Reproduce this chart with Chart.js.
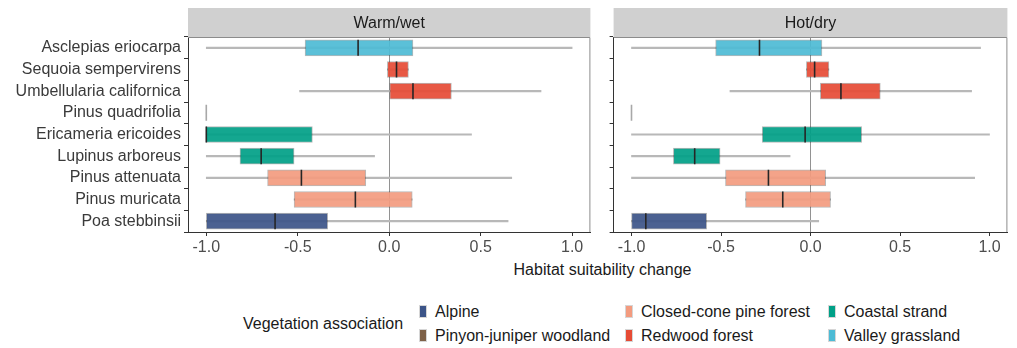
<!DOCTYPE html>
<html>
<head>
<meta charset="utf-8">
<script src="https://cdn.jsdelivr.net/npm/chart.js@4"></script>
<style>
  body { margin: 0; background: #fff; font-family: "Liberation Sans", Arial, sans-serif; }
  #wrap { position: relative; width: 1017px; height: 348px; overflow: hidden; }
  canvas { position: absolute; top: 0; }
  .xtitle { position: absolute; top: 261px; left: 188px; width: 829px; text-align: center; font-size: 16px; color: #1a1a1a; }
  .legtitle { position: absolute; left: 243px; top: 315px; font-size: 16px; color: #1a1a1a; }
  .leg { position: absolute; font-size: 16px; color: #1a1a1a; white-space: nowrap; line-height: 18px; }
  .key { display: inline-block; width: 6px; height: 11px; border: 1px solid #d6d6d6; margin-right: 8px; vertical-align: -1px; }
</style>
</head>
<body>
<div id="wrap">
  <canvas id="warm" width="600" height="256" style="left:0"></canvas>
  <canvas id="hot" width="413" height="256" style="left:604px"></canvas>
  <div class="xtitle">Habitat suitability change</div>
  <div class="legtitle">Vegetation association</div>
  <div id="legend"></div>
</div>
<script>
// rows, top to bottom
var species = ['Asclepias eriocarpa', 'Sequoia sempervirens', 'Umbellularia californica', 'Pinus quadrifolia',
  'Ericameria ericoides', 'Lupinus arboreus', 'Pinus attenuata', 'Pinus muricata', 'Poa stebbinsii'];
var association = ['Valley grassland', 'Redwood forest', 'Redwood forest', 'Pinyon-juniper woodland',
  'Coastal strand', 'Coastal strand', 'Closed-cone pine forest', 'Closed-cone pine forest', 'Alpine'];

var groups = ['Alpine', 'Pinyon-juniper woodland', 'Closed-cone pine forest', 'Redwood forest', 'Coastal strand', 'Valley grassland'];
var groupColors = ['#3C5488', '#7E6148', '#F39B7F', '#E64B35', '#00A087', '#4DBBD5'];

var xTicks = [-1, -0.5, 0, 0.5, 1];

// Warm/wet
var warmLo  = [-1.0, -0.01, -0.49, -1.0, -1.0, -1.0, -1.0, -0.52, -1.0];
var warmQ1  = [-0.46, -0.01, 0.0, -1.0, -1.0, -0.816, -0.665, -0.52, -1.0];
var warmMed = [-0.17, 0.04, 0.13, -1.0, -1.0, -0.70, -0.48, -0.185, -0.624];
var warmQ3  = [0.13, 0.105, 0.34, -1.0, -0.42, -0.52, -0.128, 0.126, -0.336];
var warmHi  = [1.0, 0.105, 0.83, -1.0, 0.45, -0.08, 0.67, 0.126, 0.65];

// Hot/dry
var hotLo  = [-1.0, -0.023, -0.45, -1.0, -1.0, -1.0, -1.0, -0.363, -1.0];
var hotQ1  = [-0.53, -0.023, 0.055, -1.0, -0.27, -0.766, -0.475, -0.363, -1.0];
var hotMed = [-0.285, 0.023, 0.17, -1.0, -0.03, -0.647, -0.235, -0.155, -0.92];
var hotQ3  = [0.064, 0.103, 0.39, -1.0, 0.286, -0.505, 0.085, 0.112, -0.58];
var hotHi  = [0.95, 0.103, 0.90, -1.0, 1.0, -0.114, 0.917, 0.112, 0.046];


function hexA(hex, a) {
  var n = parseInt(hex.slice(1), 16);
  return 'rgba(' + (n >> 16) + ',' + ((n >> 8) & 255) + ',' + (n & 255) + ',' + a + ')';
}

var boxColors = association.map(function (g) { return hexA(groupColors[groups.indexOf(g)], 0.92); });

/* strip header + top/right border of each panel */
var panelPlugin = {
  id: 'panel',
  beforeDraw: function (chart, args, opts) {
    var a = chart.chartArea, c = chart.ctx;
    c.save();
    c.fillStyle = '#d0d0d0';
    c.fillRect(a.left, 8, a.right - a.left, a.top - 8);
    c.fillStyle = '#1a1a1a';
    c.font = '16px "Liberation Sans", Arial, sans-serif';
    c.textAlign = 'center';
    c.textBaseline = 'middle';
    c.fillText(opts.title, (a.left + a.right) / 2, (a.top + 8) / 2 + 1);
    c.restore();
  },
  afterDraw: function (chart) {
    var a = chart.chartArea, c = chart.ctx;
    c.save();
    c.strokeStyle = '#8c8c8c';
    c.lineWidth = 1;
    c.beginPath();
    c.moveTo(a.left, a.top + 0.5);
    c.lineTo(a.right - 0.5, a.top + 0.5);
    c.lineTo(a.right - 0.5, a.bottom);
    c.stroke();
    c.restore();
  }
};

function makePanel(id, title, lo, q1, med, q3, hi, showLabels) {
  var whiskers = lo.map(function (v, i) { return [v, hi[i]]; });
  var boxes = q1.map(function (v, i) { return [v, q3[i]]; });
  var medColors = med.map(function (v, i) { return (q1[i] === q3[i] && lo[i] === hi[i]) ? '#a8a8a8' : '#262626'; });

  return new Chart(document.getElementById(id), {
    type: 'bar',
    data: {
      labels: species,
      datasets: [{
        data: whiskers,
        backgroundColor: '#b8b8b8',
        barThickness: 1.5,
        grouped: false,
        order: 3
      }, {
        data: boxes,
        backgroundColor: boxColors,
        borderColor: 'rgba(0,0,0,0.28)',
        borderWidth: 1,
        borderSkipped: false,
        barThickness: 16,
        grouped: false,
        order: 2
      }, {
        type: 'line',
        indexAxis: 'y',
        data: med,
        showLine: false,
        pointStyle: 'line',
        rotation: 90,
        radius: 8,
        hoverRadius: 8,
        borderWidth: 1.6,
        borderColor: medColors,
        pointBorderColor: medColors,
        order: 1
      }]
    },
    options: {
      indexAxis: 'y',
      responsive: false,
      animation: false,
      devicePixelRatio: 1,
      layout: { padding: { top: 37, right: 2, left: 0, bottom: 0 } },
      plugins: {
        legend: { display: false },
        tooltip: { enabled: false },
        panel: { title: title }
      },
      scales: {
        x: {
          type: 'linear',
          min: -1.1,
          max: 1.1,
          afterBuildTicks: function (s) { s.ticks = xTicks.map(function (v) { return { value: v }; }); },
          afterFit: function (s) { s.height = 24; },
          ticks: {
            padding: 2,
            color: '#4d4d4d',
            font: { size: 16 },
            callback: function (v) { return v.toFixed(1); }
          },
          grid: {
            color: function (c) { return c.tick && c.tick.value === 0 ? 'rgba(110,110,110,0.75)' : 'rgba(0,0,0,0)'; },
            tickColor: '#333',
            tickLength: 4,
            lineWidth: 1
          },
          border: { display: true, color: '#333', width: 1 }
        },
        y: {
          afterFit: function (s) { s.width = showLabels ? 188 : 4; },
          ticks: {
            display: showLabels,
            autoSkip: false,
            padding: 3,
            color: '#3a3a3a',
            font: { size: 16 }
          },
          grid: {
            drawOnChartArea: false,
            tickColor: '#333',
            tickLength: 4
          },
          border: { display: true, color: '#333', width: 1 }
        }
      }
    },
    plugins: [panelPlugin]
  });
}

Chart.defaults.font.family = '"Liberation Sans", Arial, sans-serif';

makePanel('warm', 'Warm/wet', warmLo, warmQ1, warmMed, warmQ3, warmHi, true);
makePanel('hot', 'Hot/dry', hotLo, hotQ1, hotMed, hotQ3, hotHi, false);

// legend, filled column by column (2 rows)
var legX = [419, 625, 828];
var legY = [303, 327];
var leg = document.getElementById('legend');
groups.forEach(function (g, i) {
  var d = document.createElement('div');
  d.className = 'leg';
  d.style.left = legX[Math.floor(i / 2)] + 'px';
  d.style.top = legY[i % 2] + 'px';
  d.innerHTML = '<span class="key" style="background:' + groupColors[i] + '"></span>' + g;
  leg.appendChild(d);
});
</script>
</body>
</html>
